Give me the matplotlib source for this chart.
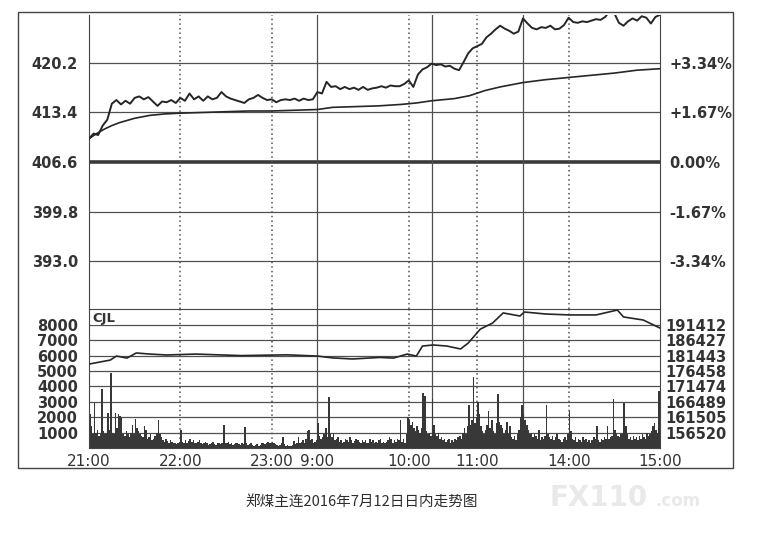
import matplotlib.pyplot as plt
import matplotlib.patches as mpatches
import numpy as np

plt.rcParams['font.family'] = ['DejaVu Sans']

# minute index: 21:00-23:30 (0-150), 9:00-10:15 (150-225), 10:30-11:30 (225-285), 13:30-15:00 (285-375)
price_min = list(range(0, 376, 3))
price = [409.8, 410.5, 410.3, 411.6, 412.4, 414.6, 415.1, 414.5, 415.0, 414.6,
         415.4, 415.6, 415.2, 415.5, 414.9, 414.3, 414.9, 414.8, 415.1, 414.7,
         415.4, 415.0, 416.0, 415.2, 415.6, 415.0, 415.6, 415.2, 415.4, 416.2,
         415.6, 415.3, 415.1, 414.9, 414.7, 415.2, 415.4, 415.8, 415.4, 415.1,
         415.2, 414.8, 415.1, 415.2, 415.1, 415.3, 415.0, 415.3, 415.1, 415.2,
         416.2, 416.0, 417.6, 416.9, 417.0, 416.6, 416.9, 416.6, 416.8, 416.5,
         416.9, 416.5, 416.7, 416.8, 417.0, 416.8, 417.1, 417.0, 417.0, 417.3,
         417.8, 416.9, 418.6, 419.3, 419.6, 420.1, 419.9, 420.0, 419.7, 419.8,
         419.4, 419.2, 420.3, 421.5, 422.2, 422.5, 422.8, 423.7, 424.2, 424.8,
         425.3, 424.9, 424.6, 424.2, 424.5, 426.3, 425.6, 425.0, 424.8, 425.1,
         425.0, 425.3, 424.8, 424.9, 425.4, 426.4, 425.8, 425.7, 425.9, 425.8,
         426.0, 426.2, 426.1, 426.5, 427.3, 427.0, 425.7, 425.3, 425.9, 426.3,
         426.0, 426.6, 426.4, 425.6, 426.5, 426.8]

avg_min = [0, 5, 10, 15, 20, 30, 40, 50, 60, 75, 90, 105, 120, 135, 150, 160, 175,
           190, 205, 215, 225, 240, 250, 260, 270, 285, 300, 315, 330, 345, 360, 375]
avg_price = [409.8, 410.5, 411.1, 411.6, 412.0, 412.6, 413.0, 413.2, 413.3, 413.4,
             413.5, 413.6, 413.6, 413.7, 413.8, 414.1, 414.2, 414.3, 414.5, 414.7,
             415.0, 415.3, 415.7, 416.4, 416.9, 417.5, 417.9, 418.2, 418.5, 418.8,
             419.2, 419.4]

cjl_min = [0, 14, 18, 25, 31, 40, 51, 70, 100, 130, 150, 160, 173, 191, 200, 209, 215,
           219, 226, 235, 244, 249, 257, 265, 272, 283, 286, 300, 316, 333, 347, 351,
           364, 375]
cjl = [5450, 5710, 5970, 5840, 6170, 6100, 6040, 6100, 6000, 6050, 5970, 5850, 5780,
       5880, 5840, 6100, 5970, 6620, 6690, 6620, 6430, 6810, 7720, 8110, 8770, 8570,
       8830, 8700, 8640, 8640, 8960, 8510, 8310, 7790]

volume = [
    2200, 1400, 900, 2900, 1000, 1200, 800, 900, 3800, 1100, 900, 1000, 2300, 1200, 4900,
    1000, 900, 2300, 1300, 2200, 2100, 2000, 900, 800, 1100, 900, 700, 1000, 1500, 900,
    1900, 1300, 1100, 900, 800, 700, 1400, 1200, 600, 700, 900, 500, 600, 800, 1000,
    1800, 900, 700, 500, 400, 600, 450, 300, 500, 400, 300, 350, 250, 300, 400,
    1200, 400, 350, 500, 300, 450, 600, 400, 500, 350, 300, 400, 500, 350, 250,
    300, 400, 350, 200, 250, 300, 400, 250, 200, 300, 350, 250, 300, 1500, 350,
    300, 400, 250, 300, 200, 250, 300, 350, 250, 200, 300, 250, 1350, 300, 200,
    250, 300, 200, 150, 200, 250, 100, 200, 300, 350, 250, 300, 400, 300, 350,
    400, 300, 250, 200, 100, 200, 300, 700, 250, 150, 200, 100, 150, 200, 450,
    250, 300, 700, 300, 400, 500, 350, 600, 1100, 1200, 500, 600, 300, 400, 500,
    1600, 800, 600, 700, 900, 1300, 700, 3300, 900, 700, 1000, 500, 600, 700, 400,
    500, 300, 400, 600, 500, 400, 700, 500, 300, 450, 600, 500, 400, 300, 500,
    400, 500, 350, 300, 600, 400, 500, 300, 400, 350, 500, 600, 300, 400, 350,
    400, 500, 700, 600, 300, 500, 400, 600, 500, 1800, 400, 600, 300, 900, 2000,
    1800, 1500, 1700, 1300, 1100, 1400, 1200, 1000, 1300, 3600, 3400, 1100, 900, 1000, 800,
    3200, 1500, 900, 800, 1000, 600, 700, 500, 600, 400, 500, 600, 300, 500, 400,
    600, 500, 700, 800, 600, 1000, 1300, 900, 1400, 2800, 1500, 1800, 4600, 1600, 2000,
    3000, 2200, 1400, 1100, 900, 1200, 1500, 2400, 1300, 1800, 1100, 900, 1600, 3500, 1700,
    1500, 1300, 900, 1200, 1700, 900, 1400, 700, 600, 800, 500, 900, 1200, 2000, 2800,
    2200, 1800, 1500, 1200, 900, 1000, 700, 900, 800, 600, 1200, 500, 700, 600, 800,
    2800, 900, 700, 600, 800, 500, 700, 900, 600, 500, 400, 600, 700, 500, 900,
    2400, 1100, 600, 500, 700, 400, 600, 500, 400, 700, 500, 600, 400, 500, 300,
    500, 700, 600, 1400, 500, 400, 600, 500, 700, 600, 1400, 600, 700, 800, 3200,
    1200, 900, 800, 700, 900, 1000, 2900, 1400, 900, 600, 700, 500, 800, 600, 700,
    500, 800, 600, 900, 700, 600, 1000, 800, 900, 1100, 1400, 1600, 1200, 1000, 3700]

price_ticks = [420.2, 413.4, 406.6, 399.8, 393.0]
pct_labels = ['+3.34%', '+1.67%', '0.00%', '-1.67%', '-3.34%']
vol_ticks = [8000, 7000, 6000, 5000, 4000, 3000, 2000, 1000]
cjl_labels = ['191412', '186427', '181443', '176458', '171474', '166489', '161505', '156520']
time_pos = [0, 60, 120, 150, 210, 255, 315, 375]
time_labels = ['21:00', '22:00', '23:00', '9:00', '10:00', '11:00', '14:00', '15:00']
solid_v = [150, 225, 285]
dotted_v = [60, 120, 210, 255, 315]

ink = '#262626'
grid = '#505050'

fig = plt.figure(figsize=(7.63, 5.46), dpi=100)
fig.patches.append(mpatches.Rectangle((18 / 763, 78 / 546), 715 / 763, 456 / 546,
                                      transform=fig.transFigure, fill=False,
                                      edgecolor='#444444', linewidth=1.0))

ax = fig.add_axes([89 / 763, 237 / 546, 571 / 763, 294 / 546])
axv = fig.add_axes([89 / 763, 98 / 546, 571 / 763, 139 / 546])

# price panel
ax.set_xlim(0, 375)
ax.set_ylim(386.43, 426.77)
for p in price_ticks:
    ax.axhline(p, color='#3a3a3a' if p == 406.6 else grid, lw=2.6 if p == 406.6 else 0.9, zorder=1)
for v in solid_v:
    ax.axvline(v, color=grid, lw=0.9, zorder=1)
for v in dotted_v:
    ax.axvline(v, color=grid, lw=1.1, ls=(0, (1, 2)), zorder=1)
ax.plot(avg_min, avg_price, color=ink, lw=1.2, zorder=3)
ax.plot(price_min, price, color=ink, lw=1.4, zorder=3)
ax.set_yticks(price_ticks)
ax.set_yticklabels([f'{p:.1f}' for p in price_ticks], fontweight='bold', fontsize=10.5, color='#333333')
ax.tick_params(axis='y', length=0, pad=8)
ax.set_xticks([])
ax.spines['top'].set_visible(False)
ax.spines['bottom'].set_visible(False)
for s in ['left', 'right']:
    ax.spines[s].set_color('#444444')
axr = ax.twinx()
axr.set_ylim(ax.get_ylim())
axr.set_yticks(price_ticks)
axr.set_yticklabels(pct_labels, fontweight='bold', fontsize=10.5, color='#333333')
axr.tick_params(axis='y', length=0, pad=7)
for s in axr.spines.values():
    s.set_visible(False)

# volume panel
axv.set_xlim(0, 375)
axv.set_ylim(0, 9026)
for t in vol_ticks:
    axv.axhline(t, color=grid, lw=0.9, zorder=1)
for v in solid_v:
    axv.axvline(v, color=grid, lw=0.9, zorder=1)
for v in dotted_v:
    axv.axvline(v, color=grid, lw=1.1, ls=(0, (1, 2)), zorder=1)
axv.bar(np.arange(len(volume)) + 0.5, volume, width=1.0, color='#383838', linewidth=0, zorder=2)
axv.plot(cjl_min, cjl, color=ink, lw=1.2, zorder=3)
axv.text(2, 8000, 'CJL', fontsize=9.5, fontweight='bold', color='#333333', va='bottom',
         ha='left', bbox=dict(facecolor='white', edgecolor='none', pad=0.5), zorder=4)
axv.set_yticks(vol_ticks)
axv.set_yticklabels([str(t) for t in vol_ticks], fontweight='bold', fontsize=10.5, color='#333333')
axv.tick_params(axis='y', length=0, pad=8)
axv.set_xticks(time_pos)
axv.set_xticklabels(time_labels, fontsize=11, color='#333333')
axv.tick_params(axis='x', length=0, pad=4)
for s in axv.spines.values():
    s.set_color('#444444')
axvr = axv.twinx()
axvr.set_ylim(axv.get_ylim())
axvr.set_yticks(vol_ticks)
axvr.set_yticklabels(cjl_labels, fontweight='bold', fontsize=10.5, color='#333333')
axvr.tick_params(axis='y', length=0, pad=4)
for s in axvr.spines.values():
    s.set_visible(False)

fig.text(362 / 763, 44 / 546, '郑煤主连2016年7月12日日内走势图', ha='center', va='center',
         fontsize=10.5, fontweight='medium', color='#2e2e2e',
         family=['Noto Sans CJK SC', 'DejaVu Sans'])
fig.text(550 / 763, 48 / 546, 'FX110', ha='left', va='center', fontsize=20,
         fontweight='bold', color='#e9e9e9')
fig.text(655 / 763, 45 / 546, '.com', ha='left', va='center', fontsize=12,
         fontweight='bold', color='#e9e9e9')

fig.savefig('out.png', dpi=100)
